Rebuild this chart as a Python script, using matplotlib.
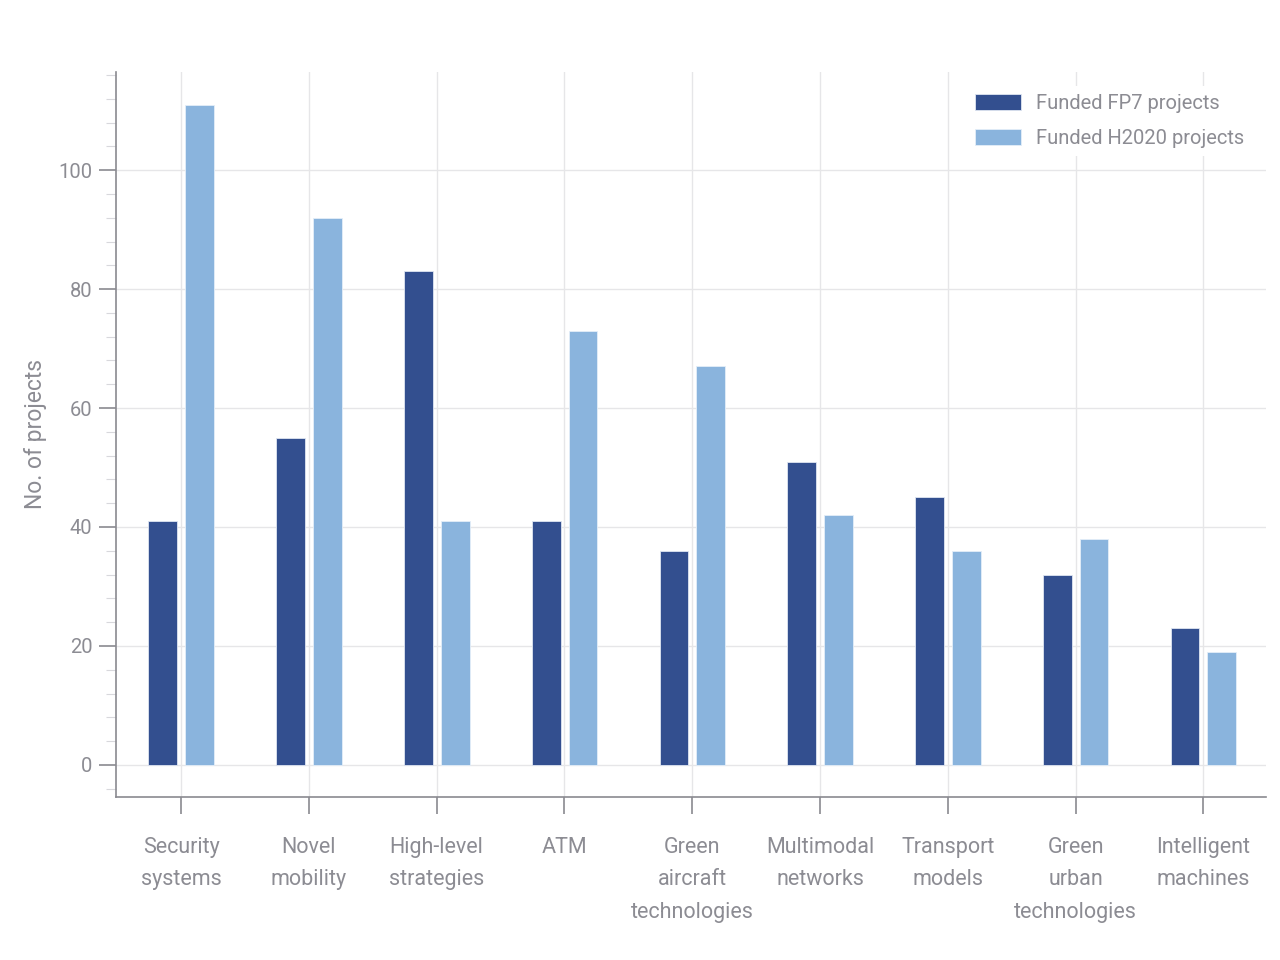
import matplotlib
matplotlib.use("Agg")
import matplotlib.pyplot as plt
import numpy as np
from matplotlib.ticker import MultipleLocator

categories = ["Security\nsystems", "Novel\nmobility", "High-level\nstrategies", "ATM",
              "Green\naircraft\ntechnologies", "Multimodal\nnetworks", "Transport\nmodels",
              "Green\nurban\ntechnologies", "Intelligent\nmachines"]
fp7 = [41, 55, 83, 41, 36, 51, 45, 32, 23]
h2020 = [111, 92, 41, 73, 67, 42, 36, 38, 19]
series_labels = ["Funded FP7 projects", "Funded H2020 projects"]
yticks = [0, 20, 40, 60, 80, 100]

dark = "#334f8f"
light = "#8ab4dd"
gray = "#8a8a90"
textc = "#8c8c93"
gridc = "#e6e6e8"

fam = ["Roboto", "DejaVu Sans"]

fig = plt.figure(figsize=(12.8, 9.6), dpi=100)
ax = fig.add_axes([0.0906, 0.1698, 0.8984, 0.7552])

x = np.arange(len(categories))
w = 0.225
ax.bar(x - 0.143, fp7, width=w, color=dark, edgecolor="#dfe6f2", linewidth=0.6,
       label=series_labels[0], zorder=3)
ax.bar(x + 0.145, h2020, width=w, color=light, edgecolor="#e4eef8", linewidth=0.6,
       label=series_labels[1], zorder=3)

ax.set_xlim(-0.51, 8.49)
ax.set_ylim(-5.4, 116.5)
ax.set_yticks(yticks)
ax.yaxis.set_minor_locator(MultipleLocator(4))
ax.set_xticks(x)
ax.set_xticklabels(categories, fontfamily=fam, fontweight="normal",
                   fontsize=15.5, color=textc, linespacing=1.7)
for lbl in ax.get_yticklabels():
    lbl.set_fontfamily(fam)
    lbl.set_fontweight("normal")
    lbl.set_fontsize(14.5)
    lbl.set_color(textc)

ax.grid(True, which="major", color=gridc, linewidth=1.0, zorder=0)
ax.set_axisbelow(True)

for s in ["top", "right"]:
    ax.spines[s].set_visible(False)
for s in ["left", "bottom"]:
    ax.spines[s].set_color(gray)
    ax.spines[s].set_linewidth(1.2)

ax.tick_params(axis="y", which="major", length=12, width=1.2, color=gray, pad=5)
ax.tick_params(axis="y", which="minor", length=7, width=0.8, color="#d8d8dc")
ax.tick_params(axis="x", which="major", length=12, width=1.2, color=gray, pad=17)

ax.set_ylabel("No. of projects", fontfamily=fam, fontweight="normal",
              fontsize=16.5, color=textc, labelpad=8)

leg = ax.legend(loc="upper right", bbox_to_anchor=(0.997, 0.995), frameon=True,
                fancybox=False, framealpha=1.0, edgecolor="white",
                prop={"family": fam, "size": 14.5, "weight": "normal"}, handlelength=2.3,
                handleheight=0.85, handletextpad=0.75, labelspacing=0.8,
                labelcolor=textc)
leg.get_frame().set_linewidth(0)

fig.savefig("out.png", dpi=100, facecolor="white")
